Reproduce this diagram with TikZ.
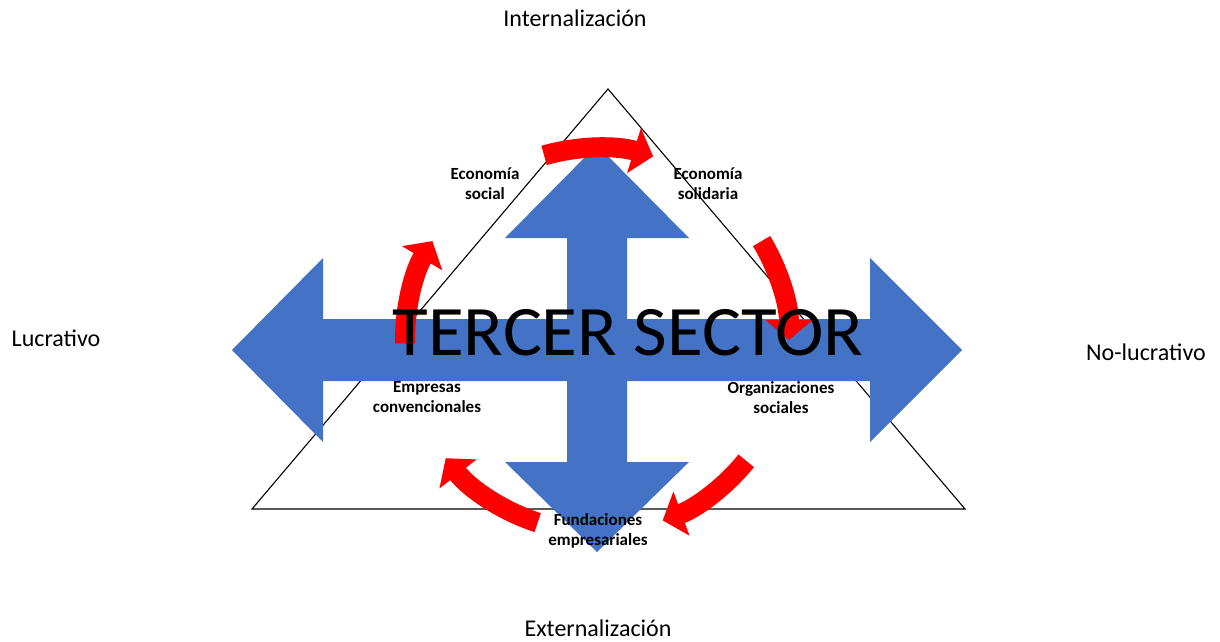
\documentclass[tikz,border=0pt]{standalone}
\usepackage{fontspec}
\setmainfont{Carlito}
\usetikzlibrary{arrows.meta,calc}
\definecolor{crossblue}{HTML}{4472C4}

\begin{document}
\begin{tikzpicture}[x=1pt,y=1pt]
\tikzstyle{axis} = [font=\fontsize{24}{28}\selectfont]
\tikzstyle{tag} = [align=center,font=\bfseries\fontsize{17}{20}\selectfont]
\tikzstyle{cyc} = [draw=red,line width=20pt,-{Triangle[length=20pt,width=46pt]}]
\useasboundingbox (0,0) rectangle (1220,641);
\coordinate (c) at (597,301);
% triangle
\draw[line width=1.1pt] (608,552) -- (965,132) -- (252,132) -- cycle;
% blue cross
\fill[crossblue] (232,291) -- (323,383) -- (323,322) -- (567,322) -- (567,403) -- (505,403)
  -- (597,496) -- (689,403) -- (627,403) -- (627,322) -- (870,322) -- (870,383) -- (962,291)
  -- (870,199) -- (870,260) -- (627,260) -- (627,179) -- (689,179) -- (597,89) -- (505,179)
  -- (567,179) -- (567,260) -- (323,260) -- (323,199) -- cycle;
% red cycle
\draw[cyc] ($(c)+(106:192)$) arc[start angle=106,end angle=73,radius=192];
\draw[cyc] ($(c)+(31:192)$) arc[start angle=31,end angle=0,radius=192];
\draw[cyc] ($(c)+(-39:192)$) arc[start angle=-39,end angle=-70,radius=192];
\draw[cyc] ($(c)+(-108:192)$) arc[start angle=-108,end angle=-142,radius=192];
\draw[cyc] ($(c)+(181:192)$) arc[start angle=181,end angle=149,radius=192];
% labels
\node[axis] (int) at (575,623) {Internalización};
\node[axis] (ext) at (598,13) {Externalización};
\node[axis] (luc) at (56,303) {Lucrativo};
\node[axis] (nol) at (1146,289) {No-lucrativo};
\node[tag] (es) at (485,457) {Economía\\social};
\node[tag] (esol) at (708,457) {Economía\\solidaria};
\node[tag] (emp) at (427,244) {Empresas\\convencionales};
\node[tag] (org) at (781,243) {Organizaciones\\sociales};
\node[tag] (fun) at (598,110) {Fundaciones\\empresariales};
\node[font=\fontsize{71}{80}\selectfont,xscale=1.03] (ts) at (628,308) {TERCER SECTOR};
\end{tikzpicture}
\end{document}
